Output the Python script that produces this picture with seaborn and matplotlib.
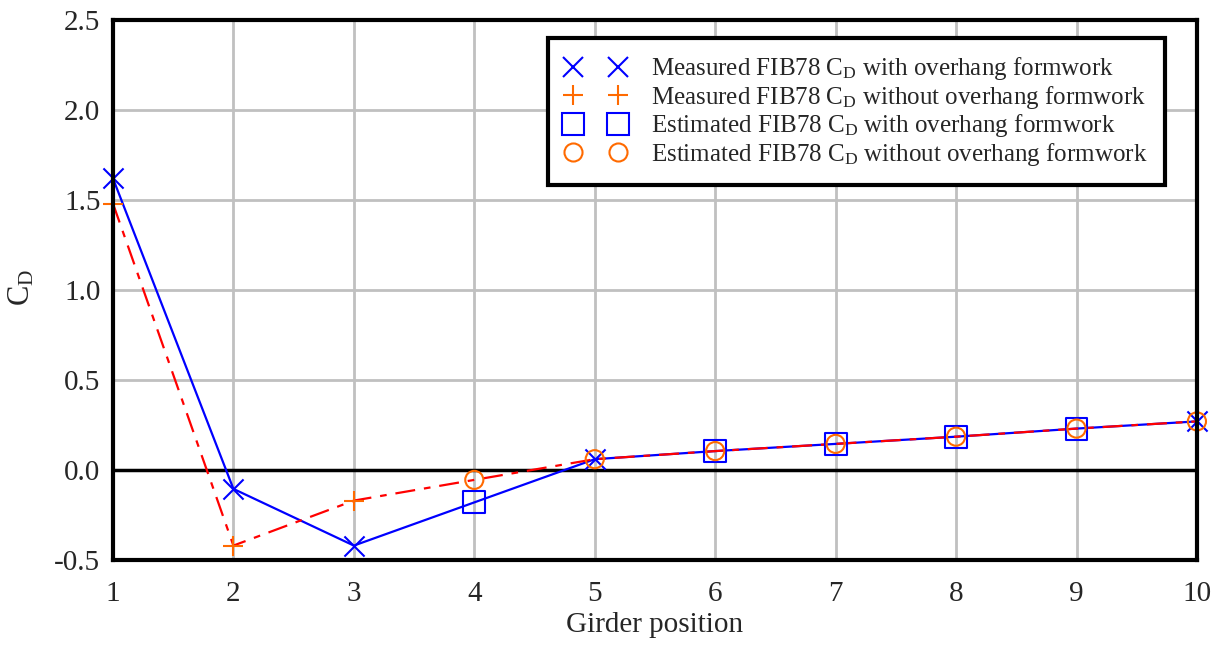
import matplotlib
matplotlib.use('Agg')
import matplotlib.pyplot as plt
import seaborn as sns
from matplotlib.lines import Line2D
from matplotlib.ticker import FormatStrFormatter

# Data
meas_with_x = [1, 2, 3, 5, 10]
meas_with_y = [1.62, -0.105, -0.42, 0.06, 0.27]
meas_without_x = [1, 2, 3]
meas_without_y = [1.48, -0.42, -0.17]
est_with_x = [4, 6, 7, 8, 9]
est_with_y = [-0.18, 0.105, 0.145, 0.185, 0.23]
est_without_x = [4, 5, 6, 7, 8, 9, 10]
est_without_y = [-0.055, 0.06, 0.105, 0.145, 0.185, 0.23, 0.27]

# Connected lines: with formwork (blue solid), without (red dash-dot)
line_with_x = [1, 2, 3, 4, 5, 6, 7, 8, 9, 10]
line_with_y = [1.62, -0.105, -0.42, -0.18, 0.06, 0.105, 0.145, 0.185, 0.23, 0.27]
line_without_x = [1, 2, 3, 4, 5, 6, 7, 8, 9, 10]
line_without_y = [1.48, -0.42, -0.17, -0.055, 0.06, 0.105, 0.145, 0.185, 0.23, 0.27]

x_ticks = list(range(1, 11))
y_ticks = [-0.5, 0.0, 0.5, 1.0, 1.5, 2.0, 2.5]

sns.set_style('white')
plt.rcParams['font.family'] = ['Liberation Serif', 'DejaVu Serif']
plt.rcParams['mathtext.fontset'] = 'custom'
plt.rcParams['mathtext.rm'] = 'Liberation Serif'
plt.rcParams['mathtext.it'] = 'Liberation Serif:italic'
plt.rcParams['axes.unicode_minus'] = False

blue = '#0000FF'
orange = '#FF6A00'
red = '#FF0000'

fig = plt.figure(figsize=(12.2, 6.45), dpi=100)
ax = fig.add_axes([0.0926, 0.1318, 0.8885, 0.8372])

ax.set_xlim(1, 10)
ax.set_ylim(-0.5, 2.5)
ax.set_xticks(x_ticks)
ax.set_yticks(y_ticks)
ax.yaxis.set_major_formatter(FormatStrFormatter('%.1f'))
ax.grid(True, color='#C0C0C0', linewidth=2)
ax.set_axisbelow(True)
ax.axhline(0, color='black', linewidth=2.5, zorder=1.5)

sns.lineplot(x=line_without_x, y=line_without_y, ax=ax, color=red, linewidth=1.6,
             linestyle=(0, (9, 4, 3, 4)), sort=False, zorder=3)
sns.lineplot(x=line_with_x, y=line_with_y, ax=ax, color=blue, linewidth=1.6,
             sort=False, zorder=2)

sns.scatterplot(x=meas_with_x, y=meas_with_y, ax=ax, marker='x', s=210, color=blue,
                linewidth=1.5, clip_on=False, zorder=5)
sns.scatterplot(x=meas_without_x, y=meas_without_y, ax=ax, marker='+', s=210, color=orange,
                linewidth=1.5, clip_on=False, zorder=5)
sns.scatterplot(x=est_with_x, y=est_with_y, ax=ax, marker='s', s=250, facecolor='none',
                edgecolor=blue, linewidth=1.5, clip_on=False, zorder=5)
sns.scatterplot(x=est_without_x, y=est_without_y, ax=ax, marker='o', s=170, facecolor='none',
                edgecolor=orange, linewidth=1.5, clip_on=False, zorder=5)

for sp in ax.spines.values():
    sp.set_linewidth(3)
    sp.set_color('black')
    sp.set_zorder(6)

ax.tick_params(axis='both', labelsize=21, length=0)
ax.tick_params(axis='y', pad=9)
ax.tick_params(axis='x', pad=15)
ax.set_xlabel('Girder position', fontsize=21, labelpad=4)
ax.set_ylabel(r'C$_\mathrm{D}$', fontsize=22)
ax.yaxis.set_label_coords(-0.071, 0.505)

handles = [
    Line2D([], [], linestyle='none', marker='x', markersize=14, color=blue, markeredgewidth=1.5),
    Line2D([], [], linestyle='none', marker='+', markersize=14, color=orange, markeredgewidth=1.5),
    Line2D([], [], linestyle='none', marker='s', markersize=16, markerfacecolor='none',
           markeredgecolor=blue, markeredgewidth=1.5),
    Line2D([], [], linestyle='none', marker='o', markersize=13, markerfacecolor='none',
           markeredgecolor=orange, markeredgewidth=1.5),
]
labels = [
    r'Measured FIB78 C$_\mathrm{D}$ with overhang formwork',
    r'Measured FIB78 C$_\mathrm{D}$ without overhang formwork',
    r'Estimated FIB78 C$_\mathrm{D}$ with overhang formwork',
    r'Estimated FIB78 C$_\mathrm{D}$ without overhang formwork',
]
leg = ax.legend(handles, labels, loc='upper right', bbox_to_anchor=(0.9705, 0.9667),
                numpoints=2, fontsize=18, frameon=True, fancybox=False,
                framealpha=1, edgecolor='black', borderpad=0.7, labelspacing=0.06,
                borderaxespad=0, handlelength=2.4, handletextpad=1.0)
leg.get_frame().set_linewidth(3)

fig.savefig('out.png', dpi=100)
